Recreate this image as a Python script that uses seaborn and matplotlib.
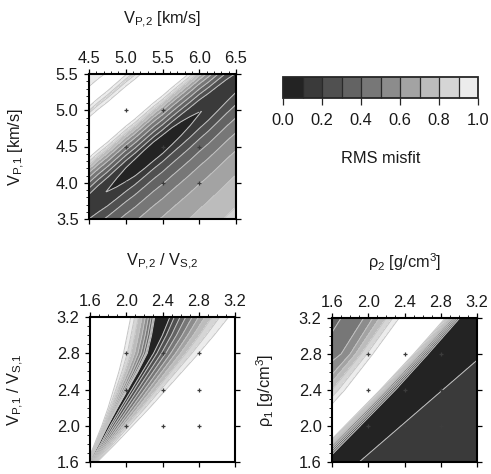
import numpy as np
import matplotlib
matplotlib.use("Agg")
import matplotlib.pyplot as plt
from matplotlib.colors import ListedColormap, BoundaryNorm
from matplotlib.cm import ScalarMappable
from matplotlib.ticker import MultipleLocator, FormatStrFormatter
import seaborn as sns

# ---------------------------------------------------------------- data
misfit_levels = [0.0, 0.1, 0.2, 0.3, 0.4, 0.5, 0.6, 0.7, 0.8, 0.9, 1.0]
level_grays = ["#232323", "#3a3a3a", "#505050", "#636363", "#777777",
               "#8c8c8c", "#a3a3a3", "#bcbcbc", "#d5d5d5", "#ececec"]
cbar_ticks = [0.0, 0.2, 0.4, 0.6, 0.8, 1.0]

# P-wave velocities: misfit valley per V_P,2 column, cross-valley profile in V_P,1
vp2_ticks = [4.5, 5.0, 5.5, 6.0, 6.5]
vp1_ticks = [3.5, 4.0, 4.5, 5.0, 5.5]
vp2_cols = [4.5, 4.625, 4.75, 4.875, 5.0, 5.125, 5.25, 5.375, 5.5,
            5.625, 5.75, 5.875, 6.0, 6.125, 6.25, 6.375, 6.5]
vp1_valley = [3.68, 3.79, 3.89, 4.00, 4.11, 4.21, 4.32, 4.43, 4.53,
              4.64, 4.745, 4.85, 4.96, 5.06, 5.17, 5.28, 5.38]
vp_floor = [0.135, 0.116, 0.097, 0.078, 0.058, 0.039, 0.02, 0.002, 0.018,
            0.038, 0.057, 0.076, 0.095, 0.115, 0.134, 0.153, 0.172]
vp_offsets_up = [0.13, 0.2, 0.27, 0.34, 0.41, 0.47, 0.52, 0.57, 0.62, 0.67,
                 0.8, 0.95, 1.1, 1.22, 1.3, 1.4, 1.6, 1.8, 2.3]
vp_misfit_up = [0.1, 0.2, 0.3, 0.4, 0.5, 0.6, 0.7, 0.8, 0.9, 1.0,
                1.1, 1.15, 1.1, 1.0, 0.86, 1.04, 1.02, 0.9, 0.86]
vp_offsets_dn = [0.13, 0.24, 0.38, 0.55, 0.75, 1.0, 1.35, 1.8, 2.4]
vp_misfit_dn = [0.1, 0.2, 0.3, 0.4, 0.5, 0.6, 0.7, 0.8, 0.87]

# Vp/Vs ratios: valley per V_P,1/V_S,1 row with edges of the low-misfit wedge
ratio_ticks = [1.6, 2.0, 2.4, 2.8, 3.2]
ratio1_rows = [1.6, 1.8, 2.0, 2.2, 2.4, 2.6, 2.8, 3.0, 3.2]
ratio2_valley = [1.59, 1.70, 1.80, 1.91, 2.025, 2.14, 2.25, 2.32, 2.375]
ratio2_left = [1.57, 1.65, 1.73, 1.80, 1.86, 1.92, 1.97, 2.01, 2.05]
ratio2_right = [1.68, 1.88, 2.07, 2.26, 2.44, 2.62, 2.80, 2.97, 3.13]
ratio_floor = [0.03, 0.03, 0.03, 0.03, 0.03, 0.03, 0.03, 0.02, 0.0]
ratio_core = [0.002, 0.002, 0.002, 0.002, 0.002, 0.002, 0.008, 0.03, 0.05]
ratio_frac_left = [0.06, 0.1, 0.2, 0.35, 0.55, 0.77, 1.0, 1.5, 3.0]
ratio_misfit_left = [0.15, 0.3, 0.42, 0.55, 0.7, 0.85, 1.0, 1.2, 1.3]
ratio_frac_right = [0.08, 0.15, 0.24, 0.33, 0.43, 0.53, 0.63, 0.74, 0.86,
                    1.0, 1.5, 3.0]
ratio_misfit_right = [0.1, 0.2, 0.3, 0.4, 0.5, 0.6, 0.7, 0.8, 0.9,
                      1.0, 1.2, 1.3]

# Densities: rho_2 positions where each row reaches the profile values
rho_ticks = [1.6, 2.0, 2.4, 2.8, 3.2]
rho1_rows = [1.6, 2.0, 2.4, 2.8, 3.2]
rho_profile = [0.35, 0.4, 0.5, 0.6, 0.8, 1.0, 1.15, 1.0, 0.5, 0.1, 0.04,
               0.1, 0.15, 0.15]
rho2_crossings = [
    [-0.6, -0.2, 0.3, 0.6, 0.8, 1.00, 1.20, 1.35, 1.42, 1.52, 1.71, 1.90, 2.00, 3.8],
    [-0.2, 0.2, 0.7, 1.0, 1.2, 1.38, 1.58, 1.74, 1.81, 1.91, 2.13, 2.36, 2.46, 4.2],
    [0.2, 0.6, 1.2, 1.45, 1.60, 1.74, 1.95, 2.13, 2.20, 2.30, 2.56, 2.82, 2.92, 4.6],
    [0.6, 1.45, 1.70, 1.80, 1.92, 2.05, 2.28, 2.50, 2.57, 2.66, 2.98, 3.28, 3.38, 5.0],
    [1.0, 1.7, 1.95, 2.05, 2.20, 2.34, 2.60, 2.85, 2.93, 3.01, 3.40, 3.75, 3.85, 5.4],
]

# ---------------------------------------------------------------- style
sns.set_style("ticks")
plt.rcParams["font.family"] = ["Liberation Sans", "DejaVu Sans"]
plt.rcParams["mathtext.fontset"] = "custom"
plt.rcParams["mathtext.rm"] = "Liberation Sans"
plt.rcParams["mathtext.it"] = "Liberation Sans"
FS = 11.8
TXT = "#1a1a1a"

cmap = ListedColormap(level_grays)
cmap.set_over("white")
norm = BoundaryNorm(misfit_levels, cmap.N)
line_color = "#c4c4c4"

fig = plt.figure(figsize=(4.91, 4.74), dpi=100)


def px_axes(x0, x1, y0, y1):
    W, H = 491.0, 474.0
    return fig.add_axes([x0 / W, 1 - y1 / H, (x1 - x0) / W, (y1 - y0) / H])


def draw_field(ax, X, Y, M):
    ax.contourf(X, Y, M, levels=misfit_levels, cmap=cmap, norm=norm,
                extend="max", zorder=1)
    ax.contour(X, Y, M, levels=misfit_levels[1:], colors=line_color,
               linewidths=0.7, zorder=2)


def style_axes(ax, xt, yt, minor, xlabel, ylabel, xl_y, yl_x):
    ax.set_xlim(xt[0], xt[-1])
    ax.set_ylim(yt[0], yt[-1])
    ax.set_xticks(xt)
    ax.set_yticks(yt)
    ax.xaxis.set_minor_locator(MultipleLocator(minor))
    ax.yaxis.set_minor_locator(MultipleLocator(minor))
    ax.xaxis.set_major_formatter(FormatStrFormatter("%.1f"))
    ax.yaxis.set_major_formatter(FormatStrFormatter("%.1f"))
    ax.tick_params(which="both", direction="out", top=True, bottom=True,
                   left=True, right=True, labeltop=True, labelbottom=False,
                   labelleft=True, labelright=False, color="black",
                   labelsize=FS, labelcolor=TXT)
    ax.tick_params(which="major", length=3.5, width=0.9)
    ax.tick_params(which="minor", length=2, width=0.6, bottom=False, right=False)
    ax.tick_params(axis="x", pad=2.0)
    ax.tick_params(axis="y", pad=4)
    for s in ax.spines.values():
        s.set_linewidth(1.5)
        s.set_color("black")
        s.set_zorder(5)
    ax.set_xlabel(xlabel, fontsize=FS, color=TXT)
    ax.xaxis.set_label_position("top")
    ax.xaxis.set_label_coords(0.5, xl_y)
    ax.xaxis.label.set_va("center")
    ax.set_ylabel(ylabel, fontsize=FS, color=TXT)
    ax.yaxis.set_label_coords(yl_x, 0.5)
    ax.yaxis.label.set_va("center")
    ax.yaxis.label.set_ha("center")
    # grid crosses at interior tick intersections
    gx, gy = np.meshgrid(xt[1:-1], yt[1:-1])
    ax.plot(gx.ravel(), gy.ravel(), linestyle="none", marker="+",
            markersize=3.5, markeredgewidth=0.9, color="#3c3c3c", zorder=3)


# ---- panel: P-wave velocities
ax1 = px_axes(89, 236, 74, 219)
offs = np.concatenate([-np.array(vp_offsets_dn)[::-1], [0.0], vp_offsets_up])
prof = np.concatenate([np.array(vp_misfit_dn)[::-1], [0.0], vp_misfit_up])
X1 = np.repeat(np.array(vp2_cols)[:, None], len(offs), axis=1)
Y1 = np.array(vp1_valley)[:, None] + offs[None, :]
M1 = np.hypot(prof[None, :], np.array(vp_floor)[:, None])
draw_field(ax1, X1, Y1, M1)
style_axes(ax1, vp2_ticks, vp1_ticks, 0.1,
           r"$\mathregular{V_{P,\!2}}$ [km/s]", r"$\mathregular{V_{P,\!1}}$ [km/s]",
           1.372, -0.49)

# ---- panel: Vp/Vs ratios
ax3 = px_axes(90, 235, 317, 462)
valley = np.array(ratio2_valley)
core = np.array(ratio_core)
lw = valley - core - np.array(ratio2_left)
rw = np.array(ratio2_right) - valley - core
fl = np.array(ratio_frac_left)[::-1]
fr = np.array(ratio_frac_right)
X3 = np.hstack([(valley - core)[:, None] - fl[None, :] * lw[:, None],
                (valley - core)[:, None], (valley + core)[:, None],
                (valley + core)[:, None] + fr[None, :] * rw[:, None]])
prof3 = np.concatenate([np.array(ratio_misfit_left)[::-1], [0.0, 0.0],
                        ratio_misfit_right])
M3 = np.maximum(prof3[None, :], np.array(ratio_floor)[:, None])
Y3 = np.repeat(np.array(ratio1_rows)[:, None], X3.shape[1], axis=1)
draw_field(ax3, X3, Y3, M3)
style_axes(ax3, ratio_ticks, ratio_ticks, 0.1,
           r"$\mathregular{V_{P,\!2}\ /\ V_{S,\!2}}$",
           r"$\mathregular{V_{P,\!1}\ /\ V_{S,\!1}}$", 1.379, -0.51)

# ---- panel: densities
ax4 = px_axes(332, 477, 318, 462)
X4 = np.array(rho2_crossings)
Y4 = np.repeat(np.array(rho1_rows)[:, None], X4.shape[1], axis=1)
M4 = np.repeat(np.array(rho_profile)[None, :], X4.shape[0], axis=0)
draw_field(ax4, X4, Y4, M4)
style_axes(ax4, rho_ticks, rho_ticks, 0.1,
           r"ρ$_2$ [g/cm$^3$]", r"ρ$_1$ [g/cm$^3$]", 1.389, -0.462)

# ---- colour scale
cax = px_axes(283, 478, 77, 98)
sm = ScalarMappable(norm=norm, cmap=cmap)
cb = fig.colorbar(sm, cax=cax, orientation="horizontal", ticks=cbar_ticks,
                  drawedges=True, extend="neither")
cb.dividers.set_color("#2a2a2a")
cb.dividers.set_linewidth(0.9)
cb.outline.set_linewidth(1.3)
cb.ax.xaxis.set_major_formatter(FormatStrFormatter("%.1f"))
cb.ax.tick_params(direction="out", length=5, width=0.9, pad=6, labelsize=FS,
                  labelcolor=TXT)
cb.ax.minorticks_off()
cb.set_label("RMS misfit", fontsize=FS, color=TXT)
cb.ax.xaxis.set_label_coords(0.5, -2.86)
cb.ax.xaxis.label.set_va("center")

fig.savefig("out.png", dpi=100)
